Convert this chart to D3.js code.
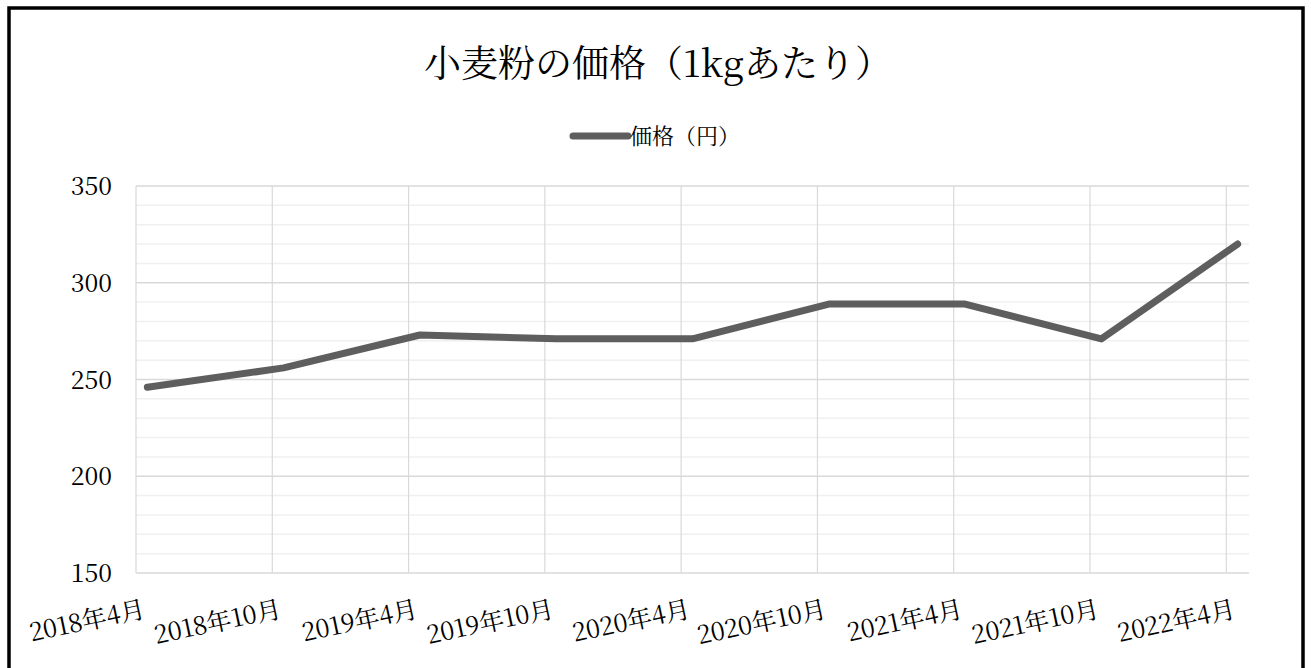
<!DOCTYPE html>
<html>
<head>
<meta charset="utf-8">
<script src="https://cdn.jsdelivr.net/npm/d3@7"></script>
<style>
  html, body { margin: 0; padding: 0; background: #ffffff; }
  svg { display: block; }
  text { font-family: "Noto Serif CJK JP", "Liberation Serif", "Noto Sans CJK JP", serif; fill: #000; }
</style>
</head>
<body>
<svg id="chart" width="1311" height="668"></svg>
<script>
// ---- data ----
const title = "小麦粉の価格（1kgあたり）";
const seriesName = "価格（円）";
const categories = ["2018年4月", "2018年10月", "2019年4月", "2019年10月", "2020年4月", "2020年10月", "2021年4月", "2021年10月", "2022年4月"];
const prices = [246, 256, 273, 271, 271, 289, 289, 271, 320];
const yTicks = [150, 200, 250, 300, 350];

// ---- layout ----
const plot = { left: 136, right: 1249, top: 186, bottom: 573 };

const svg = d3.select("#chart");

// frame
svg.append("rect")
  .attr("x", 9).attr("y", 8)
  .attr("width", 1294).attr("height", 700)
  .attr("fill", "#fff").attr("stroke", "#000").attr("stroke-width", 3.5);

// month index helper (months since first category)
function monthIndex(label) {
  const m = label.match(/(\d+)年(\d+)月/);
  return (+m[1]) * 12 + (+m[2]) - 1;
}
const m0 = monthIndex(categories[0]);
const mLast = monthIndex(categories[categories.length - 1]);

const x = d3.scaleLinear().domain([0, mLast - m0 + 1]).range([plot.left, plot.right]);
const y = d3.scaleLinear().domain([150, 350]).range([plot.bottom, plot.top]);

// minor horizontal gridlines
const minor = d3.range(150, 351, 10).filter(v => v % 50 !== 0);
svg.append("g").selectAll("line").data(minor).join("line")
  .attr("x1", plot.left).attr("x2", plot.right)
  .attr("y1", d => y(d)).attr("y2", d => y(d))
  .attr("stroke", "#f0f0f0").attr("stroke-width", 1.5);

// vertical gridlines at category starts
svg.append("g").selectAll("line").data(categories).join("line")
  .attr("x1", d => x(monthIndex(d) - m0)).attr("x2", d => x(monthIndex(d) - m0))
  .attr("y1", plot.top).attr("y2", plot.bottom)
  .attr("stroke", "#d9d9d9").attr("stroke-width", 1.2);

// major horizontal gridlines
svg.append("g").selectAll("line").data(yTicks).join("line")
  .attr("x1", plot.left).attr("x2", plot.right)
  .attr("y1", d => y(d)).attr("y2", d => y(d))
  .attr("stroke", "#d9d9d9").attr("stroke-width", 1.5);

// y axis via d3.axisLeft
const yAxis = d3.axisLeft(y).tickValues(yTicks).tickSize(0).tickPadding(0);
const gy = svg.append("g").attr("transform", `translate(${plot.left - 24},0)`).call(yAxis);
gy.select(".domain").remove();
gy.selectAll("text")
  .style("font-family", '"Noto Serif CJK JP", "Liberation Serif", serif')
  .style("font-size", "25px").attr("fill", "#000").attr("dy", "0.34em");

// line
const pts = categories.map((c, i) => ({ xi: monthIndex(c) - m0 + 0.5, v: prices[i] }));
const line = d3.line().x(d => x(d.xi)).y(d => y(d.v));
svg.append("path").datum(pts)
  .attr("d", line)
  .attr("fill", "none")
  .attr("stroke", "#5e5e5e")
  .attr("stroke-width", 7)
  .attr("stroke-linecap", "round")
  .attr("stroke-linejoin", "round");

// x labels (rotated)
svg.append("g").selectAll("text").data(categories).join("text")
  .attr("text-anchor", "end")
  .attr("transform", d => `translate(${x(monthIndex(d) - m0 + 0.5) - 1},617) rotate(-12)`)
  .style("font-size", "25px")
  .text(d => d);

// title
svg.append("text")
  .attr("x", 658).attr("y", 77)
  .attr("text-anchor", "middle")
  .style("font-size", "37px")
  .text(title);

// legend
svg.append("line")
  .attr("x1", 573).attr("x2", 628).attr("y1", 136).attr("y2", 136)
  .attr("stroke", "#5e5e5e").attr("stroke-width", 7).attr("stroke-linecap", "round");
svg.append("text")
  .attr("x", 630).attr("y", 144)
  .style("font-size", "22px")
  .text(seriesName);
</script>
</body>
</html>
